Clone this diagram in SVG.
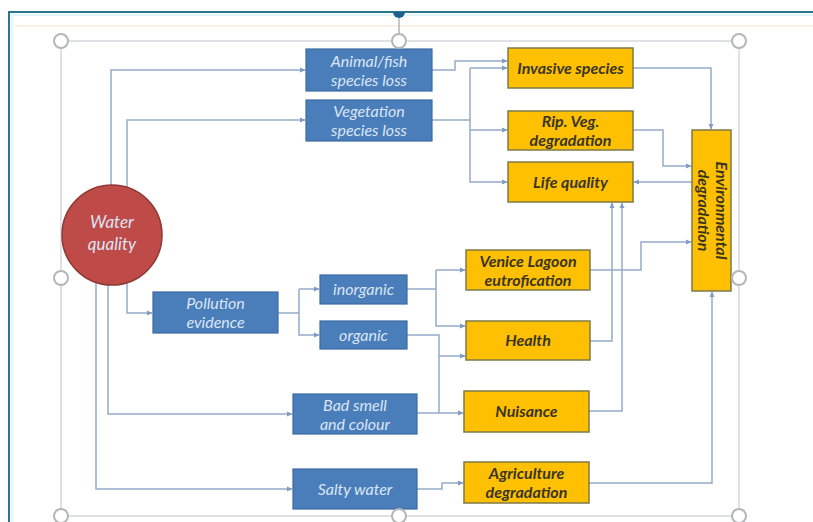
<svg xmlns="http://www.w3.org/2000/svg" width="813" height="522" viewBox="0 0 813 522">
<defs>
<marker id="ar" markerWidth="6" markerHeight="6" refX="5" refY="3" orient="auto" markerUnits="userSpaceOnUse">
<path d="M0,0.5 L5.5,3 L0,5.5 Z" fill="#7f9cc2"/>
</marker>
</defs>
<style>
.frame{fill:none;stroke:#2a7690;stroke-width:2}
.sel{fill:none;stroke:#d6d8dc;stroke-width:1.5}
.hdl{fill:#fff;stroke:#b4b6ba;stroke-width:2}
.blue{fill:#4a7ebb;stroke:#3b6aa3;stroke-width:1.2}
.yel{fill:#fec000;stroke:#7d7a4a;stroke-width:1.5}
.red{fill:#be4b48;stroke:#8e3a37;stroke-width:1.5}
.c{fill:none;stroke:#94abc9;stroke-width:1.5}
.ca{fill:none;stroke:#94abc9;stroke-width:1.5;marker-end:url(#ar)}
.tw{font-family:Lato,"Liberation Sans",sans-serif;font-style:italic;font-size:16px;fill:#dbe5f3;text-anchor:middle}
.ty{font-family:Lato,"Liberation Sans",sans-serif;font-style:italic;font-weight:bold;font-size:16px;fill:#3a3520;text-anchor:middle}
</style>
<rect width="813" height="522" fill="#ffffff"/>
<line x1="12" y1="15" x2="813" y2="15" stroke="#d8f2f6" stroke-width="1.5"/>
<line x1="12" y1="15" x2="12" y2="522" stroke="#d8f2f6" stroke-width="1.5"/>
<line x1="14" y1="26" x2="813" y2="26" stroke="#fdf1e6" stroke-width="2"/>
<path class="frame" d="M9,522 V12 H813"/>
<g id="selection">
<rect class="sel" x="61" y="41" width="678" height="475"/>
<line x1="399" y1="14" x2="399" y2="41" stroke="#b4b6ba" stroke-width="1.5"/>
<path d="M393,12 A6,6 0 0 0 405,12 Z" fill="#1f5f8e"/>
</g>
<g id="connectors">
<path class="ca" d="M111,186 V70 H305"/>
<path class="ca" d="M127,188 V120 H305"/>
<path class="ca" d="M127,282 V313 H152"/>
<path class="ca" d="M108,284 V414 H292"/>
<path class="ca" d="M96,278 V489 H292"/>
<path class="ca" d="M432,70 H455 V61 H507"/>
<path class="c" d="M432,120 H470"/>
<path class="ca" d="M470,68 H507"/>
<path class="ca" d="M470,130 H507"/>
<path class="ca" d="M470,68 V182 H507"/>
<path class="ca" d="M633,68 H711 V129"/>
<path class="ca" d="M633,130 H663 V166 H691"/>
<path class="ca" d="M692,182 H634"/>
<path class="ca" d="M590,270 H641 V242 H691"/>
<path class="ca" d="M590,341 H612 V203"/>
<path class="ca" d="M589,411 H622 V203"/>
<path class="ca" d="M589,483 H712 V292"/>
<path class="c" d="M278,313 H299"/>
<path class="ca" d="M299,289 H319"/>
<path class="ca" d="M299,289 V335 H319"/>
<path class="c" d="M407,289 H436"/>
<path class="ca" d="M436,270 H465"/>
<path class="ca" d="M436,270 V326 H465"/>
<path class="c" d="M407,335 H439 V413"/>
<path class="ca" d="M439,356 H465"/>
<path class="ca" d="M417,413 H463"/>
<path class="ca" d="M417,489 H442 V483 H463"/>
</g>
<g id="water-quality">
<circle class="red" cx="112" cy="235" r="50"/>
<text class="tw" x="112" y="228" style="font-size:17px">Water</text>
<text class="tw" x="112" y="250" style="font-size:17px">quality</text>
</g>
<g id="animal-fish">
<rect class="blue" x="306" y="49" width="126" height="42"/>
<text class="tw" x="369" y="67">Animal/fish</text>
<text class="tw" x="369" y="86">species loss</text>
</g>
<g id="vegetation">
<rect class="blue" x="306" y="100" width="126" height="41"/>
<text class="tw" x="369" y="117">Vegetation</text>
<text class="tw" x="369" y="136">species loss</text>
</g>
<g id="pollution">
<rect class="blue" x="153" y="292" width="125" height="41"/>
<text class="tw" x="215.5" y="309">Pollution</text>
<text class="tw" x="215.5" y="328">evidence</text>
</g>
<g id="inorganic">
<rect class="blue" x="320" y="275" width="87" height="29"/>
<text class="tw" x="363.5" y="295">inorganic</text>
</g>
<g id="organic">
<rect class="blue" x="320" y="321" width="87" height="28"/>
<text class="tw" x="363.5" y="341">organic</text>
</g>
<g id="bad-smell">
<rect class="blue" x="293" y="394" width="124" height="40"/>
<text class="tw" x="355" y="411">Bad smell</text>
<text class="tw" x="355" y="430">and colour</text>
</g>
<g id="salty-water">
<rect class="blue" x="293" y="469" width="124" height="40"/>
<text class="tw" x="355" y="495">Salty water</text>
</g>
<g id="invasive">
<rect class="yel" x="508" y="48" width="125" height="40"/>
<text class="ty" x="570.5" y="74">Invasive species</text>
</g>
<g id="rip-veg">
<rect class="yel" x="508" y="111" width="125" height="39"/>
<text class="ty" x="570.5" y="127">Rip. Veg.</text>
<text class="ty" x="570.5" y="146">degradation</text>
</g>
<g id="life-quality">
<rect class="yel" x="508" y="162" width="125" height="40"/>
<text class="ty" x="570.5" y="188">Life quality</text>
</g>
<g id="env-degradation">
<rect class="yel" x="692" y="130" width="39" height="161"/>
<g transform="translate(711.5,210.5) rotate(90)">
<text class="ty" x="0" y="-4">Environmental</text>
<text class="ty" x="0" y="14">degradation</text>
</g>
</g>
<g id="venice">
<rect class="yel" x="466" y="250" width="124" height="40"/>
<text class="ty" x="528" y="267">Venice Lagoon</text>
<text class="ty" x="528" y="286">eutrofication</text>
</g>
<g id="health">
<rect class="yel" x="466" y="321" width="124" height="39"/>
<text class="ty" x="528" y="346">Health</text>
</g>
<g id="nuisance">
<rect class="yel" x="464" y="391" width="125" height="41"/>
<text class="ty" x="526.5" y="417">Nuisance</text>
</g>
<g id="agriculture">
<rect class="yel" x="464" y="462" width="125" height="41"/>
<text class="ty" x="526.5" y="479">Agriculture</text>
<text class="ty" x="526.5" y="498">degradation</text>
</g>
<g id="handles">
<circle class="hdl" cx="61" cy="41" r="7"/>
<circle class="hdl" cx="399" cy="41" r="7"/>
<circle class="hdl" cx="739" cy="41" r="7"/>
<circle class="hdl" cx="61" cy="278" r="7"/>
<circle class="hdl" cx="739" cy="278" r="7"/>
<circle class="hdl" cx="61" cy="516" r="7"/>
<circle class="hdl" cx="399" cy="516" r="7"/>
<circle class="hdl" cx="739" cy="516" r="7"/>
</g>
</svg>
